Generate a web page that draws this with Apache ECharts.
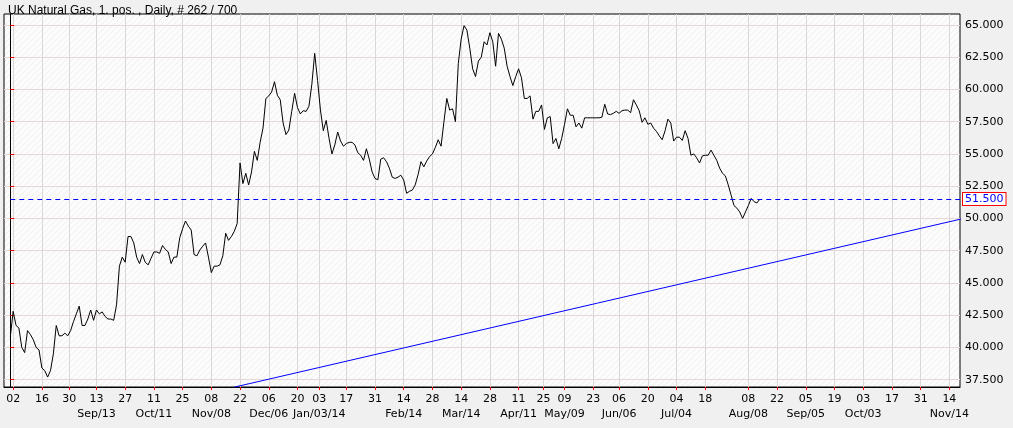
<!DOCTYPE html>
<html><head><meta charset="utf-8">
<script src="https://cdn.jsdelivr.net/npm/echarts@6/dist/echarts.min.js"></script>
<style>html,body{margin:0;padding:0;background:#F0F0F0;}#c{width:1013px;height:428px;}</style>
</head><body><div id="c"></div>
<script>
const titleText = 'UK Natural Gas, 1. pos. , Daily, # 262 / 700';
// daily closes, one per trading day (index 0..261)
const prices = [
40.8,42.8,41.7,41.5,40.0,39.6,41.3,41.0,40.6,40.0,
39.8,38.4,38.2,37.7,38.2,39.5,41.7,40.9,40.9,41.1,
40.9,41.3,42.0,42.6,43.2,41.7,41.7,42.2,42.9,42.1,
42.9,42.6,42.75,42.4,42.2,42.2,42.1,43.3,46.3,47.0,
46.6,48.6,48.6,48.1,47.0,46.5,47.2,46.6,46.4,46.9,
47.4,47.4,47.3,47.9,47.6,47.4,46.5,47.0,47.0,48.5,
49.2,49.8,49.4,49.1,47.2,47.1,47.55,47.85,48.1,47.0,
45.8,46.3,46.3,46.4,47.1,48.85,48.3,48.6,49.0,49.6,
54.3,52.7,53.5,52.6,53.6,55.2,54.5,55.9,57.0,59.3,
59.5,59.8,60.6,59.55,59.2,57.4,56.5,56.85,58.3,59.7,
58.6,58.1,58.35,58.3,58.7,60.4,62.8,60.7,58.4,56.8,
57.6,56.2,55.0,55.7,56.7,56.0,55.6,55.8,55.9,55.9,
55.7,55.1,54.9,54.5,55.4,54.6,53.6,53.1,53.0,54.6,
54.7,54.4,53.9,53.2,53.1,53.2,53.35,52.97,51.95,52.1,
52.2,52.6,53.4,54.4,54.0,54.45,54.8,55.0,55.5,56.1,
55.6,57.5,59.3,58.4,58.5,57.5,62.0,63.9,64.95,64.6,
63.2,61.6,61.0,62.2,62.5,63.7,63.45,64.4,63.7,61.8,
64.35,63.9,63.2,61.8,61.0,60.3,61.0,61.6,60.9,59.3,
59.3,59.5,57.7,58.3,58.3,58.8,56.9,57.8,57.9,55.8,
56.2,55.4,56.2,57.3,58.5,58.0,58.0,57.1,57.4,57.0,
57.8,57.8,57.8,57.8,57.8,57.8,57.85,58.85,58.1,58.05,
58.15,58.3,58.15,58.35,58.4,58.4,58.2,59.2,58.8,58.35,
57.45,57.8,57.3,57.4,57.0,56.75,56.4,56.1,56.8,57.7,
57.4,56.0,56.3,56.3,56.05,56.8,56.2,54.9,55.0,54.7,
54.3,54.85,54.9,54.9,55.3,54.9,54.5,53.9,53.5,53.3,
52.6,51.8,51.0,50.8,50.5,50.0,50.5,51.0,51.55,51.3,
51.2,51.5
];
// trend line end points [trading-day index, value]
const trendStart = [78, 36.92];
const trendEnd = [331, 49.95];
// x-axis ticks (trading-day index), day labels and month labels
const tickIdx = [1,11,20.5,30,40,50,60,70,80,90,100,107.6,117,127,137,147,157,167,177,185.7,193,203,212,222,232,242,257,267,277,287,297,307,317,327];
const dayLabels = ['02','16','30','13','27','11','25','08','22','06','20','03','17','31','14','28','14','28','11','25','09','23','06','20','04','18','08','22','05','19','03','17','31','14'];
const monthLabels = ['','','','Sep/13','','Oct/11','','Nov/08','','Dec/06','','Jan/03/14','','','Feb/14','','Mar/14','','Apr/11','','May/09','','Jun/06','','Jul/04','','Aug/08','','Sep/05','','Oct/03','','','Nov/14'];
const yTicks = [37.5,40,42.5,45,47.5,50,52.5,55,57.5,60,62.5,65];
const xMin = -2.19, xMax = 330.7, yMin = 36.93, yMax = 65.85;

const pc = document.createElement('canvas'); pc.width = 6; pc.height = 6;
const g = pc.getContext('2d');
g.fillStyle = '#FCFCFC'; g.fillRect(0,0,6,6);
g.strokeStyle = '#EFEFEF'; g.lineWidth = 1;
g.beginPath(); g.moveTo(0,6); g.lineTo(6,0); g.stroke();

const FONT = 'DejaVu Sans';
const lastVal = prices[prices.length-1];
const chart = echarts.init(document.getElementById('c'), null, {renderer:'canvas'});
chart.setOption({
  animation: false,
  backgroundColor: '#F0F0F0',
  title: {text: titleText, left: 3, top: 0, textStyle: {fontFamily: 'Liberation Sans', fontSize: 12, fontWeight: 'normal', color: '#000'}},
  grid: {left: 4, right: 53, top: 14, bottom: 41, show: true, borderColor: '#000', borderWidth: 1,
         backgroundColor: {image: pc, repeat: 'repeat'}},
  xAxis: {type: 'value', min: xMin, max: xMax,
    axisLine: {lineStyle: {color: '#000', width: 1}},
    axisTick: {customValues: tickIdx, length: 3, lineStyle: {color: '#FF0000'}},
    axisLabel: {customValues: tickIdx, margin: 5, hideOverlap: false, fontFamily: FONT, fontSize: 11, color: '#000', lineHeight: 15,
      formatter: function(v){
        let k = 0, best = 1e9;
        tickIdx.forEach((t,i)=>{ if (Math.abs(t-v) < best){best = Math.abs(t-v); k = i;} });
        return monthLabels[k] ? dayLabels[k] + '\n' + monthLabels[k] : dayLabels[k];
      }},
    splitLine: {show: true, lineStyle: {color: '#DDD6D6', width: 1}}
  },
  yAxis: {type: 'value', position: 'right', min: yMin, max: yMax,
    axisLine: {show: true, lineStyle: {color: '#000', width: 1}},
    axisTick: {show: true, customValues: yTicks, length: 4, lineStyle: {color: '#FF0000'}},
    axisLabel: {customValues: yTicks, margin: 5, fontFamily: FONT, fontSize: 11, color: '#000',
      formatter: v => v.toFixed(3)},
    splitLine: {show: true, lineStyle: {color: '#E6D6D6', width: 1}}
  },
  series: [
    {type: 'line', data: prices.map((v,i)=>[i,v]), showSymbol: false, symbol: 'none',
     lineStyle: {color: '#000', width: 1}, clip: true,
     markLine: {silent: true, symbol: 'none',
       lineStyle: {color: '#0000FF', type: [5,4], width: 1},
       label: {show: true, position: 'end', distance: 3, formatter: lastVal.toFixed(3),
         fontFamily: FONT, fontSize: 11, color: '#0000FF', backgroundColor: '#FFFFFF',
         borderColor: '#FF0000', borderWidth: 1, padding: [1,2,0,2]},
       data: [[{coord: [0, lastVal]}, {coord: [xMax, lastVal]}]]}
    },
    {type: 'line', data: [trendStart, trendEnd], showSymbol: false, symbol: 'none', clip: true,
     lineStyle: {color: '#0000FF', width: 1}}
  ]
});
</script></body></html>
